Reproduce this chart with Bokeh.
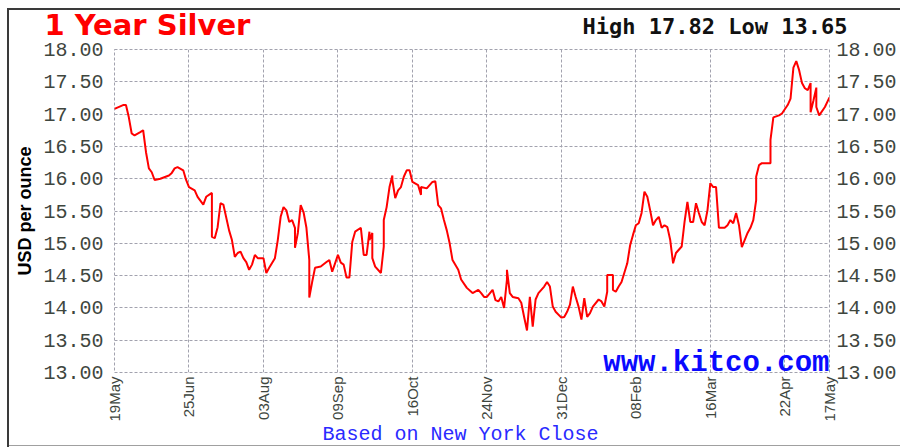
import math
from bokeh.plotting import figure
from bokeh.models import Label, LinearAxis, FixedTicker, Range1d, PrintfTickFormatter
from bokeh.embed import file_html
from bokeh.resources import INLINE

# ---- data (trading-day index, price in USD/oz) ----
days = [0, 1, 3, 4, 5, 6, 7, 9, 10, 11,
        12, 13, 14, 16, 19, 20, 21, 22, 24, 25,
        26, 28, 29, 31, 32, 34, 34, 35, 36, 37,
        38, 40, 41, 42, 43, 44, 45, 46, 47, 48,
        49, 50, 52, 53, 54, 56, 57, 58, 59, 60,
        61, 62, 63, 63, 64, 65, 66, 67, 68, 68,
        69, 70, 72, 74, 75, 76, 78, 79, 80, 81,
        82, 83, 84, 86, 87, 88, 89, 89, 90, 90,
        91, 93, 94, 94, 95, 96, 97, 97, 98, 99,
        100, 101, 102, 103, 104, 106, 107, 107, 109, 111,
        112, 113, 114, 115, 116, 117, 118, 120, 121, 123,
        125, 127, 128, 129, 130, 132, 133, 134, 135, 136,
        137, 137, 138, 139, 141, 142, 143, 144, 145, 146,
        147, 148, 149, 150, 151, 152, 153, 154, 156, 157,
        158, 159, 160, 161, 162, 163, 164, 165, 166, 167,
        169, 170, 171, 172, 172, 174, 174, 175, 176, 177,
        179, 180, 181, 182, 183, 184, 185, 186, 187, 188,
        189, 190, 191, 192, 193, 194, 195, 196, 197, 198,
        199, 200, 201, 202, 203, 204, 205, 206, 207, 208,
        209, 210, 211, 213, 214, 215, 216, 217, 218, 219,
        221, 222, 223, 224, 224, 225, 226, 229, 229, 230,
        232, 233, 235, 236, 237, 238, 239, 240, 241, 242,
        243, 243, 244, 245, 245, 246, 248, 249.6]
prices = [17.08, 17.10, 17.14, 17.14, 16.95, 16.70, 16.67, 16.72, 16.75, 16.41,
          16.16, 16.10, 15.98, 16.00, 16.05, 16.09, 16.16, 16.18, 16.13, 15.98,
          15.87, 15.82, 15.72, 15.60, 15.72, 15.78, 15.10, 15.08, 15.25, 15.62,
          15.60, 15.20, 15.05, 14.79, 14.85, 14.87, 14.77, 14.71, 14.59, 14.67,
          14.82, 14.77, 14.77, 14.54, 14.62, 14.77, 15.05, 15.41, 15.56, 15.51,
          15.33, 15.36, 15.24, 14.93, 15.16, 15.59, 15.48, 15.24, 14.74, 14.16,
          14.40, 14.62, 14.64, 14.71, 14.74, 14.56, 14.82, 14.70, 14.67, 14.47,
          14.47, 15.02, 15.18, 15.24, 14.82, 14.82, 15.18, 15.05, 15.16, 14.77,
          14.64, 14.54, 14.95, 15.36, 15.56, 15.87, 16.05, 15.98, 15.70, 15.82,
          15.87, 16.03, 16.13, 16.13, 15.95, 15.90, 15.75, 15.87, 15.85, 15.95,
          15.96, 15.59, 15.54, 15.36, 15.20, 15.00, 14.74, 14.59, 14.44, 14.31,
          14.23, 14.28, 14.23, 14.17, 14.17, 14.28, 14.12, 14.10, 14.17, 14.00,
          14.44, 14.59, 14.23, 14.17, 14.15, 14.08, 13.86, 13.65, 14.17, 13.71,
          14.13, 14.23, 14.28, 14.33, 14.40, 14.33, 14.02, 13.94, 13.85, 13.86,
          13.94, 14.05, 14.33, 14.17, 14.02, 13.82, 14.15, 13.86, 13.92, 14.02,
          14.13, 14.10, 14.02, 14.25, 14.51, 14.51, 14.28, 14.25, 14.33, 14.40,
          14.69, 14.97, 15.13, 15.28, 15.31, 15.47, 15.80, 15.72, 15.51, 15.28,
          15.36, 15.41, 15.24, 15.28, 15.25, 15.05, 14.69, 14.85, 14.90, 14.95,
          15.33, 15.64, 15.33, 15.33, 15.62, 15.47, 15.33, 15.28, 15.51, 15.93,
          15.87, 15.87, 15.24, 15.24, 15.28, 15.36, 15.31, 15.47, 15.28, 14.94,
          15.16, 15.24, 15.36, 15.67, 16.03, 16.21, 16.24, 16.24, 16.60, 16.95,
          16.98, 17.01, 17.14, 17.24, 17.72, 17.82, 17.68, 17.48, 17.40, 17.37,
          17.48, 17.03, 17.21, 17.41, 17.11, 16.98, 17.11, 17.26]

tick_days = [0, 26, 52, 78, 104, 130, 156, 182, 208, 234, 249.6]
tick_labels = ["19May", "25Jun", "03Aug", "09Sep", "16Oct", "24Nov",
               "31Dec", "08Feb", "16Mar", "22Apr", "17May"]
price_ticks = [13.0, 13.5, 14.0, 14.5, 15.0, 15.5, 16.0, 16.5, 17.0, 17.5, 18.0]

title_text = "1 Year Silver"
highlow_text = "High 17.82 Low 13.65"
axis_title = "USD per ounce"
source_text = "Based on New York Close"
brand_text = "www.kitco.com"

GRID = "#a2a2ae"
TICKCOL = "#3e463e"

p = figure(width=900, height=447, output_backend="svg", toolbar_location=None,
           x_range=Range1d(tick_days[0], tick_days[-1]),
           y_range=Range1d(price_ticks[0], price_ticks[-1]),
           min_border_left=114, min_border_right=71, min_border_top=49,
           min_border_bottom=74, background_fill_color="white",
           border_fill_color=None)

# outer frame lines of the original image, drawn behind the transparent border area
p.styles = {
    "background": ("linear-gradient(#3a3a3a,#3a3a3a) 7px 8px / 2px 440px no-repeat, "
                   "linear-gradient(#3a3a3a,#3a3a3a) 7px 8px / 893px 2px no-repeat, "
                   "linear-gradient(#a0a0a0,#a0a0a0) 7px 445px / 893px 1px no-repeat, "
                   "#ffffff")
}

p.outline_line_color = GRID
p.outline_line_dash = "3 2"
p.outline_line_width = 1

# title (outermost panel, pulled down into the row of the high/low text)
p.title.text = title_text
p.title.align = "left"
p.title.offset = -70
p.title.standoff = -35
p.title.text_font = "DejaVu Sans"
p.title.text_font_style = "bold"
p.title.text_font_size = "29px"
p.title.text_color = "#ff0000"

# x axis
xa = p.xaxis[0]
xa.ticker = FixedTicker(ticks=tick_days)
xa.major_label_overrides = {d: l for d, l in zip(tick_days, tick_labels)}
xa.major_label_orientation = math.pi / 2
xa.major_label_text_font = "Liberation Sans"
xa.major_label_text_font_size = "15px"
xa.major_label_text_color = TICKCOL
xa.major_label_standoff = 4

# left y axis
ya = p.yaxis[0]
ya.ticker = FixedTicker(ticks=price_ticks)
ya.formatter = PrintfTickFormatter(format="%.2f")
ya.major_label_text_font = "Liberation Mono"
ya.major_label_text_font_size = "20px"
ya.major_label_text_color = TICKCOL
ya.major_label_standoff = 11
ya.axis_label = axis_title
ya.axis_label_text_font = "Liberation Sans"
ya.axis_label_text_font_style = "bold"
ya.axis_label_text_font_size = "18px"
ya.axis_label_text_color = "#000000"
ya.axis_label_standoff = 5

# right y axis
ra = LinearAxis(ticker=FixedTicker(ticks=price_ticks),
                formatter=PrintfTickFormatter(format="%.2f"))
ra.major_label_text_font = "Liberation Mono"
ra.major_label_text_font_size = "20px"
ra.major_label_text_color = TICKCOL
ra.major_label_standoff = 7
p.add_layout(ra, "right")

for ax in (xa, ya, ra):
    ax.axis_line_color = None
    ax.major_tick_line_color = None
    ax.minor_tick_line_color = None
    ax.major_tick_in = 0
    ax.major_tick_out = 0
    ax.minor_tick_in = 0
    ax.minor_tick_out = 0

p.xgrid.ticker = FixedTicker(ticks=tick_days)
p.ygrid.ticker = FixedTicker(ticks=price_ticks)
for g in (p.xgrid[0], p.ygrid[0]):
    g.grid_line_color = GRID
    g.grid_line_dash = "3 2"
    g.grid_line_width = 1

p.line(days, prices, line_color="#ff0000", line_width=2)

# labels placed in side panels (not clipped to the frame)
p.add_layout(Label(x=733, y=23.5, x_units="screen", y_units="screen",
                   text=highlow_text, text_font="DejaVu Sans Mono", text_font_style="bold",
                   text_font_size="22px", text_color="#111111",
                   text_align="right", text_baseline="middle"), "above")
p.add_layout(Label(x=346, y=13, x_units="screen", y_units="screen",
                   text=source_text, text_font="Liberation Mono",
                   text_font_size="20px", text_color="#2a2aff",
                   text_align="center", text_baseline="middle"), "below")
p.add_layout(Label(x=715, y=9, x_units="screen", y_units="screen",
                   text=brand_text, text_font="Liberation Mono", text_font_style="bold",
                   text_font_size="29px", text_color="#0a0aff",
                   text_align="right", text_baseline="middle"))

open("out.html", "w").write(file_html(p, INLINE))
